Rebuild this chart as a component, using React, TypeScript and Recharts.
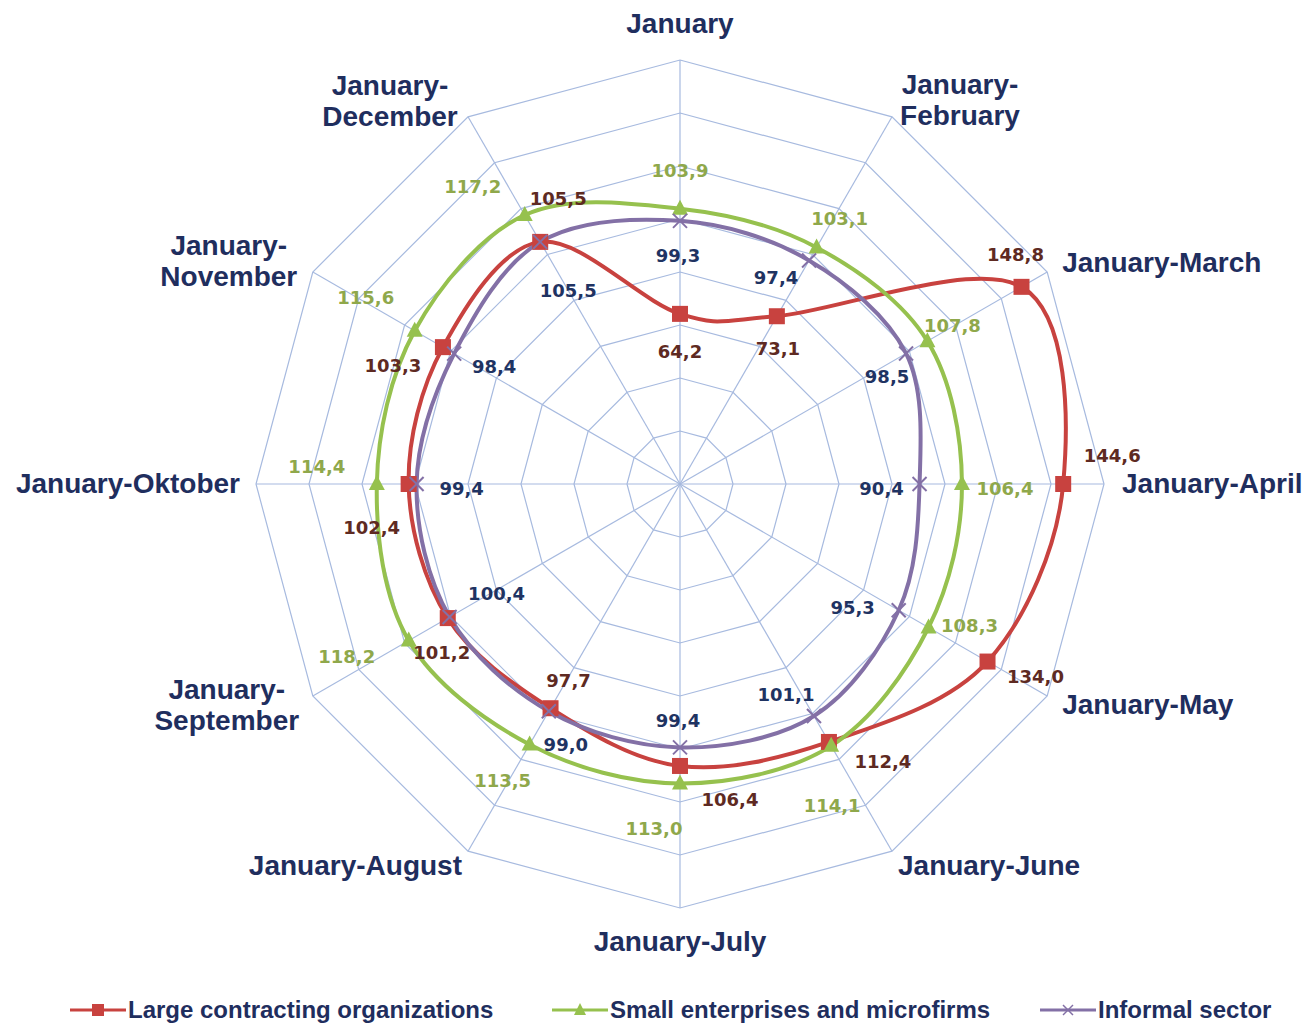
import React from 'react';
import { RadarChart, Radar, PolarGrid, PolarAngleAxis, PolarRadiusAxis, Legend } from 'recharts';

// ---------- data ----------
const categories = [
  'January',
  'January-February',
  'January-March',
  'January-April',
  'January-May',
  'January-June',
  'January-July',
  'January-August',
  'January-September',
  'January-Oktober',
  'January-November',
  'January-December',
];
const largeOrgs = [64.2, 73.1, 148.8, 144.6, 134.0, 112.4, 106.4, 97.7, 101.2, 102.4, 103.3, 105.5];
const smallFirms = [103.9, 103.1, 107.8, 106.4, 108.3, 114.1, 113.0, 113.5, 118.2, 114.4, 115.6, 117.2];
const informalSector = [99.3, 97.4, 98.5, 90.4, 95.3, 101.1, 99.4, 99.0, 100.4, 99.4, 98.4, 105.5];
const seriesNames = ['Large contracting organizations', 'Small enterprises and microfirms', 'Informal sector'];
const radiusDomain = [0, 160];

const data = categories.map((c, i) => ({
  category: c,
  large: largeOrgs[i],
  small: smallFirms[i],
  informal: informalSector[i],
}));

// ---------- layout / style ----------
const W = 1314;
const H = 1023;
const CX = 680;
const CY = 484;
const R = 424;

const RED = '#C8423F';
const GREEN = '#96C14E';
const PURPLE = '#8370A6';
const NAVY = '#1F2E5E';
const RED_TEXT = '#5E2A22';
const GREEN_TEXT = '#8FA84B';
const PURPLE_TEXT = '#1F3362';
const GRID = '#A7BADF';

// value-label offsets (dx, dy) from each marker
const LARGE_OFF = [[0, 38], [1, 32], [-6, -32], [49, -29], [48, 15], [54, 20], [50, 34], [18, -28], [-6, 34], [-37, 43], [-50, 18], [18, -43]];
const SMALL_OFF = [[0, -38], [23, -29], [25, -16], [43, 4], [41, -2], [1, 60], [-26, 45], [-27, 36], [-62, 16], [-60, -18], [-49, -33], [-52, -29]];
const INFORMAL_OFF = [[-2, 35], [-33, 17], [-19, 23], [-38, 4], [-46, -3], [-28, -22], [-2, -27], [17, 33], [47, -24], [45, 4], [40, 13], [28, 49]];

// category label placement relative to the outer vertex: [dx, dy(first baseline), anchor, twoLines]
const TICK_LAYOUT: [number, number, string, boolean][] = [
  [0, -27, 'middle', false],
  [68, -23, 'middle', true],
  [15, 0, 'start', false],
  [18, 9, 'start', false],
  [15, 18, 'start', false],
  [6, 24, 'start', false],
  [0, 43, 'middle', false],
  [-6, 24, 'end', false],
  [-86, 3, 'middle', true],
  [-16, 9, 'end', false],
  [-84, -17, 'middle', true],
  [-78, -22, 'middle', true],
];

const fmt = (v: number) => v.toFixed(1).replace('.', ',');

function closedSpline(pts: { x: number; y: number }[]) {
  const n = pts.length;
  if (!n) return '';
  let d = `M${pts[0].x},${pts[0].y}`;
  for (let i = 0; i < n; i++) {
    const p0 = pts[(i - 1 + n) % n];
    const p1 = pts[i];
    const p2 = pts[(i + 1) % n];
    const p3 = pts[(i + 2) % n];
    const c1x = p1.x + (p2.x - p0.x) / 6;
    const c1y = p1.y + (p2.y - p0.y) / 6;
    const c2x = p2.x - (p3.x - p1.x) / 6;
    const c2y = p2.y - (p3.y - p1.y) / 6;
    d += ` C${c1x},${c1y} ${c2x},${c2y} ${p2.x},${p2.y}`;
  }
  return d + ' Z';
}

const makeShape = (color: string) => (props: any) => (
  <path d={closedSpline(props.points || [])} fill="none" stroke={color} strokeWidth={4} strokeLinejoin="round" />
);

const valueLabel = (x: number, y: number, text: string, color: string) => (
  <text
    x={x}
    y={y}
    textAnchor="middle"
    dominantBaseline="central"
    fontFamily="'DejaVu Sans', Verdana, sans-serif"
    fontWeight="bold"
    fontSize={18}
    fill={color}
  >
    {text}
  </text>
);

const pickNumber = (...cands: any[]) => {
  for (const c of cands) if (typeof c === 'number' && !isNaN(c)) return c;
  return NaN;
};

const makeDot = (
  kind: 'square' | 'triangle' | 'cross',
  key: string,
  values: number[],
  offsets: number[][],
  textColor: string
) => (props: any) => {
  const { cx, cy, index, payload } = props;
  const value = pickNumber(
    payload?.payload?.[key],
    payload?.[key],
    payload?.value,
    props.value,
    values[index]
  );
  const off = offsets[index] || [0, 0];
  let marker;
  if (kind === 'square') {
    marker = <rect x={cx - 8} y={cy - 8} width={16} height={16} fill={RED} />;
  } else if (kind === 'triangle') {
    marker = <polygon points={`${cx},${cy - 9} ${cx + 8},${cy + 6} ${cx - 8},${cy + 6}`} fill={GREEN} />;
  } else {
    marker = (
      <g stroke={PURPLE} strokeWidth={2}>
        <line x1={cx - 7} y1={cy - 7} x2={cx + 7} y2={cy + 7} />
        <line x1={cx - 7} y1={cy + 7} x2={cx + 7} y2={cy - 7} />
      </g>
    );
  }
  return (
    <g key={`dot-${kind}-${index}`}>
      {marker}
      {isNaN(value) ? null : valueLabel(cx + off[0], cy + off[1], fmt(value), textColor)}
    </g>
  );
};

const CategoryTick = (props: any) => {
  const { payload, index } = props;
  const angle = payload?.coordinate ?? 90 - index * 30;
  const rad = (-angle * Math.PI) / 180;
  const vx = CX + R * Math.cos(rad);
  const vy = CY + R * Math.sin(rad);
  const [dx, dy, anchor, two] = TICK_LAYOUT[index] || [0, 0, 'middle', false];
  const label: string = payload.value;
  const lines = two ? [label.slice(0, label.indexOf('-') + 1), label.slice(label.indexOf('-') + 1)] : [label];
  return (
    <text
      x={vx + dx}
      y={vy + dy}
      textAnchor={anchor}
      fontFamily="'Liberation Sans', Arial, sans-serif"
      fontWeight="bold"
      fontSize={28}
      fill={NAVY}
    >
      {lines.map((l, i) => (
        <tspan key={i} x={vx + dx} dy={i === 0 ? 0 : 31}>
          {l}
        </tspan>
      ))}
    </text>
  );
};

const LEGEND_X = [70, 552, 1040];
const SERIES_COLORS = [RED, GREEN, PURPLE];
const legendIcon = (kind: number) => {
  const color = SERIES_COLORS[kind];
  return (
    <svg width={56} height={20} style={{ display: 'block' }}>
      <line x1={0} y1={10} x2={56} y2={10} stroke={color} strokeWidth={3} />
      {kind === 0 && <rect x={22} y={4} width={12} height={12} fill={RED} />}
      {kind === 1 && <polygon points="28,3 34,15 22,15" fill={GREEN} />}
      {kind === 2 && (
        <g stroke={PURPLE} strokeWidth={1.5}>
          <line x1={23} y1={5} x2={33} y2={15} />
          <line x1={23} y1={15} x2={33} y2={5} />
        </g>
      )}
    </svg>
  );
};

const renderLegend = (props: any) => {
  const payload: any[] = props.payload || [];
  const ordered = seriesNames.map((name) => payload.find((p) => p.value === name)?.value ?? name);
  return (
    <div style={{ position: 'relative', width: W, height: 30 }}>
      {ordered.map((name: string, i: number) => (
        <div
          key={i}
          style={{
            position: 'absolute',
            left: LEGEND_X[i],
            top: 0,
            display: 'flex',
            alignItems: 'center',
            whiteSpace: 'nowrap',
          }}
        >
          {legendIcon(i)}
          <span
            style={{
              marginLeft: 2,
              fontFamily: "'Liberation Sans', Arial, sans-serif",
              fontWeight: 'bold',
              fontSize: 24,
              color: NAVY,
              lineHeight: '30px',
            }}
          >
            {name}
          </span>
        </div>
      ))}
    </div>
  );
};

export default function App() {
  return (
    <div style={{ position: 'absolute', left: 0, top: 0, width: W, height: H, background: '#fff' }}>
      <RadarChart width={W} height={H} data={data} cx={CX} cy={CY} outerRadius={R} margin={{ top: 0, right: 0, bottom: 0, left: 0 }}>
        <PolarGrid gridType="polygon" stroke={GRID} strokeWidth={1.2} />
        <PolarAngleAxis dataKey="category" tick={<CategoryTick />} tickLine={false} axisLine={false} />
        <PolarRadiusAxis domain={radiusDomain} tickCount={9} tick={false} axisLine={false} />
        <Radar
          name={seriesNames[0]}
          dataKey="large"
          stroke={RED}
          fill="none"
          isAnimationActive={false}
          shape={makeShape(RED)}
          dot={makeDot('square', 'large', largeOrgs, LARGE_OFF, RED_TEXT)}
        />
        <Radar
          name={seriesNames[1]}
          dataKey="small"
          stroke={GREEN}
          fill="none"
          isAnimationActive={false}
          shape={makeShape(GREEN)}
          dot={makeDot('triangle', 'small', smallFirms, SMALL_OFF, GREEN_TEXT)}
        />
        <Radar
          name={seriesNames[2]}
          dataKey="informal"
          stroke={PURPLE}
          fill="none"
          isAnimationActive={false}
          shape={makeShape(PURPLE)}
          dot={makeDot('cross', 'informal', informalSector, INFORMAL_OFF, PURPLE_TEXT)}
        />
        <Legend content={renderLegend} wrapperStyle={{ position: 'absolute', left: 0, top: 995, width: W, height: 30 }} />
      </RadarChart>
    </div>
  );
}
